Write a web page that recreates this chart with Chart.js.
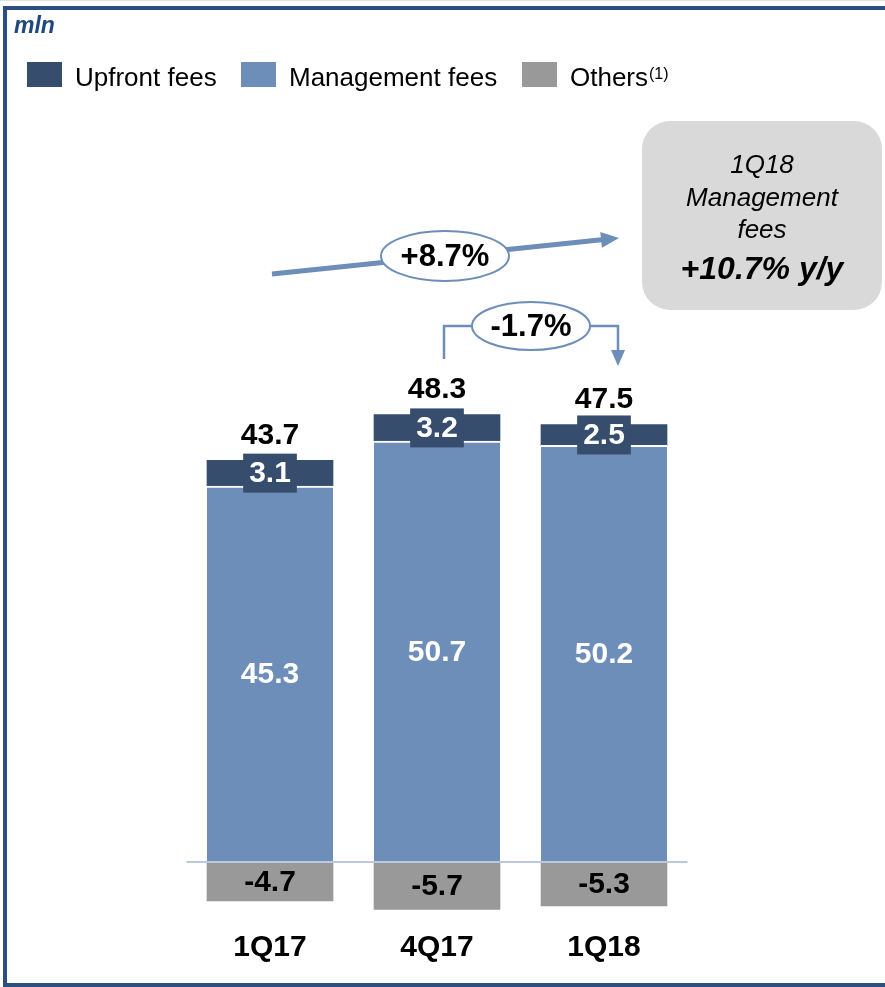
<!DOCTYPE html>
<html>
<head>
<meta charset="utf-8">
<script src="https://cdn.jsdelivr.net/npm/chart.js@4"></script>
<style>
  body { margin: 0; background: #fff; }
  canvas { display: block; }
</style>
</head>
<body>
<canvas id="feesChart" width="885" height="987"></canvas>
<script>
// quarterly fee breakdown, mln
var quarters = ['1Q17', '4Q17', '1Q18'];
var mgmtFees = [45.3, 50.7, 50.2];
var upfrontFees = [3.1, 3.2, 2.5];
var otherFees = [-4.7, -5.7, -5.3];
var totals = [43.7, 48.3, 47.5];

var C_UPFRONT = '#364d6e';
var C_MGMT = '#6e8eba';
var C_OTHER = '#999999';
var C_FRAME = '#2b4f81';
var FONT = '"Liberation Sans", Arial, sans-serif';

function fmt(v) { return v.toFixed(1); }

function ellipseLabel(ctx, cx, cy, rx, ry, txt) {
  ctx.beginPath();
  ctx.ellipse(cx, cy, rx, ry, 0, 0, Math.PI * 2);
  ctx.fillStyle = '#fff';
  ctx.fill();
  ctx.lineWidth = 2;
  ctx.strokeStyle = C_MGMT;
  ctx.stroke();
  ctx.fillStyle = '#000';
  ctx.font = 'bold 31px ' + FONT;
  ctx.textAlign = 'center';
  ctx.textBaseline = 'middle';
  ctx.fillText(txt, cx, cy + 1);
}

function arrowHead(ctx, x, y, angle, len, half) {
  ctx.save();
  ctx.translate(x, y);
  ctx.rotate(angle);
  ctx.beginPath();
  ctx.moveTo(0, 0);
  ctx.lineTo(-len, -half);
  ctx.lineTo(-len, half);
  ctx.closePath();
  ctx.fillStyle = C_MGMT;
  ctx.fill();
  ctx.restore();
}

var decorations = {
  id: 'decorations',
  beforeDraw: function (chart) {
    var ctx = chart.ctx;
    ctx.save();
    // frame
    ctx.fillStyle = '#e2e2e2';
    ctx.fillRect(0, 0, 885, 1);
    ctx.fillStyle = C_FRAME;
    ctx.fillRect(3, 6, 882, 4);
    ctx.fillRect(3, 6, 4, 981);
    ctx.fillRect(3, 983, 882, 4);

    ctx.fillStyle = '#21487d';
    ctx.font = 'italic bold 23px ' + FONT;
    ctx.textAlign = 'left';
    ctx.textBaseline = 'alphabetic';
    ctx.fillText('mln', 14, 33);

    // legend
    var items = [
      { c: C_UPFRONT, t: 'Upfront fees', x: 27 },
      { c: C_MGMT, t: 'Management fees', x: 241 },
      { c: C_OTHER, t: 'Others', x: 522 }
    ];
    ctx.font = '26px ' + FONT;
    items.forEach(function (it) {
      ctx.fillStyle = it.c;
      ctx.fillRect(it.x, 62, 35, 25);
      ctx.fillStyle = '#000';
      ctx.fillText(it.t, it.x + 48, 86);
    });
    var w = ctx.measureText('Others').width;
    ctx.font = '16px ' + FONT;
    ctx.fillText('(1)', 570 + w + 1, 79);

    // callout box
    ctx.beginPath();
    ctx.roundRect(642, 121, 240, 189, 28);
    ctx.fillStyle = '#d9d9d9';
    ctx.fill();
    ctx.fillStyle = '#000';
    ctx.textAlign = 'center';
    ctx.font = 'italic 26px ' + FONT;
    ctx.fillText('1Q18', 762, 173);
    ctx.fillText('Management', 762, 206);
    ctx.fillText('fees', 762, 238);
    ctx.font = 'italic bold 32px ' + FONT;
    ctx.fillText('+10.7% y/y', 762, 279);
    ctx.restore();
  },
  afterDatasetsDraw: function (chart) {
    var ctx = chart.ctx;
    var xs = chart.scales.x, ys = chart.scales.y;
    var area = chart.chartArea;
    var zero = ys.getPixelForValue(0);
    ctx.save();

    // zero line
    ctx.strokeStyle = '#b9c9de';
    ctx.lineWidth = 2;
    ctx.beginPath();
    ctx.moveTo(area.left, zero);
    ctx.lineTo(area.right, zero);
    ctx.stroke();

    ctx.textAlign = 'center';
    ctx.textBaseline = 'middle';
    quarters.forEach(function (q, i) {
      var x = xs.getPixelForValue(i);
      var mTop = ys.getPixelForValue(mgmtFees[i]);
      var uTop = ys.getPixelForValue(mgmtFees[i] + upfrontFees[i]);
      var oBot = ys.getPixelForValue(otherFees[i]);

      ctx.font = 'bold 30px ' + FONT;
      ctx.fillStyle = '#fff';
      ctx.fillText(fmt(mgmtFees[i]), x, (zero + mTop) / 2 + 1);

      // upfront label sits on its own dark tag
      var ut = fmt(upfrontFees[i]);
      var tw = ctx.measureText(ut).width + 12;
      var uc = (mTop + uTop) / 2;
      ctx.fillStyle = C_UPFRONT;
      ctx.fillRect(x - tw / 2, uc - 19.5, tw, 39);
      ctx.fillStyle = '#fff';
      ctx.fillText(ut, x, uc + 1);

      ctx.fillStyle = '#000';
      ctx.fillText(fmt(totals[i]), x, uTop - 25);
      ctx.fillText(fmt(otherFees[i]), x, (zero + oBot) / 2 + 1);
      ctx.fillText(q, xs.getPixelForValue(i), 948);
    });

    // +8.7% trend arrow
    ctx.strokeStyle = C_MGMT;
    ctx.lineWidth = 5;
    ctx.beginPath();
    ctx.moveTo(272, 274);
    ctx.lineTo(604, 239.5);
    ctx.stroke();
    arrowHead(ctx, 619, 238, Math.atan2(-36, 346), 18, 8);
    ellipseLabel(ctx, 445, 256, 64, 25, '+8.7%');

    // -1.7% bracket
    ctx.strokeStyle = C_MGMT;
    ctx.lineWidth = 2.5;
    ctx.beginPath();
    ctx.moveTo(444, 359);
    ctx.lineTo(444, 326);
    ctx.lineTo(618, 326);
    ctx.lineTo(618, 352);
    ctx.stroke();
    arrowHead(ctx, 618, 366, Math.PI / 2, 16, 7);
    ellipseLabel(ctx, 531, 326, 59, 24, '-1.7%');
    ctx.restore();
  }
};

new Chart(document.getElementById('feesChart'), {
  type: 'bar',
  data: {
    labels: quarters,
    datasets: [
      { label: 'Management fees', data: mgmtFees, backgroundColor: C_MGMT,
        borderColor: '#fff', borderWidth: { top: 2, left: 0, right: 0, bottom: 0 }, borderSkipped: false },
      { label: 'Upfront fees', data: upfrontFees, backgroundColor: C_UPFRONT },
      { label: 'Others', data: otherFees, backgroundColor: C_OTHER }
    ]
  },
  options: {
    responsive: false,
    devicePixelRatio: 1,
    animation: false,
    layout: { padding: { top: 364, bottom: 42, left: 186.5, right: 197.5 } },
    datasets: { bar: { barThickness: 126 } },
    plugins: { legend: { display: false }, tooltip: { enabled: false } },
    scales: {
      x: { stacked: true, display: false },
      y: { stacked: true, display: false, min: -10, max: 60 }
    }
  },
  plugins: [decorations]
});
</script>
</body>
</html>
